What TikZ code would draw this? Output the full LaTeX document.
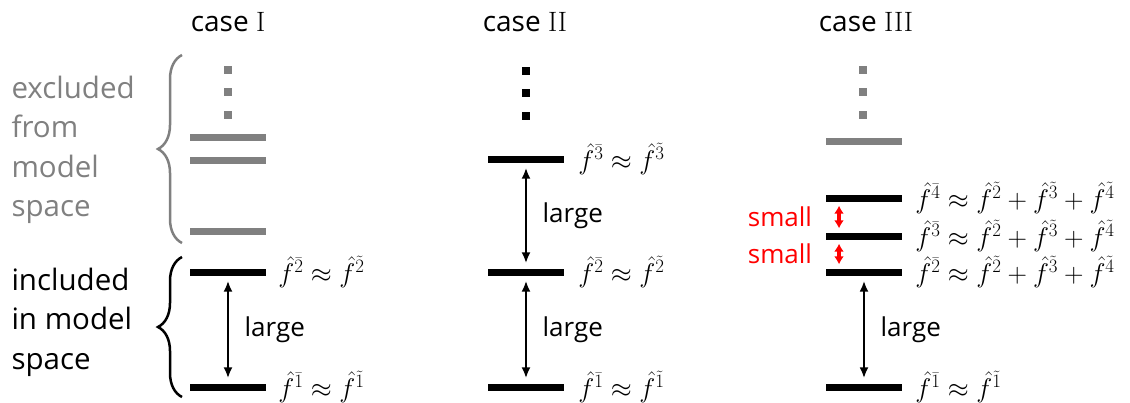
\RequirePackage{fix-cm}
\documentclass[tikz,border=0pt]{standalone}
\usepackage{amsmath}
\usepackage{fontspec}
\setsansfont{Open Sans}
\usetikzlibrary{positioning, decorations.pathreplacing, arrows.meta}

\definecolor{exclgrey}{gray}{0.5}

\tikzset{
  bar/.style={fill=black, inner sep=0, minimum width=76, minimum height=7},
  greybar/.style={bar, fill=exclgrey},
  dotsq/.style={fill=black, inner sep=0, minimum size=7.5},
  greydot/.style={dotsq, fill=exclgrey},
  title/.style={font=\sffamily\fontsize{28}{34}\selectfont},
  side/.style={font=\sffamily\fontsize{29.5}{39.5}\selectfont, align=left, anchor=west},
  gaplbl/.style={font=\sffamily\fontsize{26}{30}\selectfont, anchor=west, xshift=12},
  smalllbl/.style={font=\sffamily\fontsize{26}{30}\selectfont, text=red, anchor=east, xshift=-22},
  eq/.style={font=\fontsize{27}{31}\selectfont, inner sep=0},
  twoway/.style={{Latex[length=11,width=9]}-{Latex[length=11,width=9]}, line width=2.6, shorten >=5, shorten <=5},
  redway/.style={{Latex[length=8,width=10]}-{Latex[length=8,width=10]}, line width=3.2, red, shorten >=4, shorten <=4},
  brace/.style={decorate, decoration={brace, amplitude=24}, line width=2.5}
}

\begin{document}
\begin{tikzpicture}[x=1pt, y=-1pt]
\useasboundingbox (0,0) rectangle (1130,402);

% titles
\node[title] (tI) at (228,22) {case {\rmfamily I}};
\node[title] (tII) at (525,22) {case {\rmfamily II}};
\node[title] (tIII) at (866,22) {case {\rmfamily III}};

% case I
\foreach \y [count=\i] in {70,92,115}
  \node[greydot] (Idot\i) at (228,\y) {};
\node[greybar] (Ix1) at (228,137) {};
\node[greybar] (Ix2) at (228,160) {};
\node[greybar] (Ix3) at (228,231) {};
\node[bar] (I2) at (228,272) {};
\node[bar] (I1) at (228,387) {};
\draw[twoway] (I1) -- node[gaplbl] {large} (I2);
\node[eq, right=12 of I2] (I2eq) {$\hat f^{\bar 2}\approx\hat f^{\tilde 2}$};
\node[eq, right=12 of I1] (I1eq) {$\hat f^{\bar 1}\approx\hat f^{\tilde 1}$};

\draw[brace, exclgrey] (182,243) -- (182,55);
\draw[brace] (182,397) -- (182,257);
\node[side, text=exclgrey] (excl) at (8,150) {excluded\\from\\model\\space};
\node[side] (incl) at (8,322) {included\\in model\\space};

% case II
\foreach \y [count=\i] in {71,93,116}
  \node[dotsq] (IIdot\i) at (526,\y) {};
\node[bar] (II3) at (526,159) {};
\node[bar] (II2) at (526,272) {};
\node[bar] (II1) at (526,387) {};
\draw[twoway] (II2) -- node[gaplbl] {large} (II3);
\draw[twoway] (II1) -- node[gaplbl] {large} (II2);
\node[eq, right=14 of II3] (II3eq) {$\hat f^{\bar 3}\approx\hat f^{\tilde 3}$};
\node[eq, right=14 of II2] (II2eq) {$\hat f^{\bar 2}\approx\hat f^{\tilde 2}$};
\node[eq, right=14 of II1] (II1eq) {$\hat f^{\bar 1}\approx\hat f^{\tilde 1}$};

% case III
\foreach \y [count=\i] in {70,92,115}
  \node[greydot] (IIIdot\i) at (863,\y) {};
\node[greybar] (IIIx) at (864,141) {};
\node[bar] (III4) at (864,198) {};
\node[bar] (III3) at (864,236) {};
\node[bar] (III2) at (864,272) {};
\node[bar] (III1) at (864,387) {};
\draw[redway] ([xshift=-25]III4.south) -- node[smalllbl] {small} ([xshift=-25]III3.north);
\draw[redway] ([xshift=-25]III3.south) -- node[smalllbl] {small} ([xshift=-25]III2.north);
\draw[twoway] (III1) -- node[gaplbl] {large} (III2);
\foreach \k in {4,3,2}
  \node[eq, right=13 of III\k] (III\k eq) {$\hat f^{\bar \k}\approx\hat f^{\tilde 2}+\hat f^{\tilde 3}+\hat f^{\tilde 4}$};
\node[eq, right=13 of III1] (III1eq) {$\hat f^{\bar 1}\approx\hat f^{\tilde 1}$};
\end{tikzpicture}
\end{document}
